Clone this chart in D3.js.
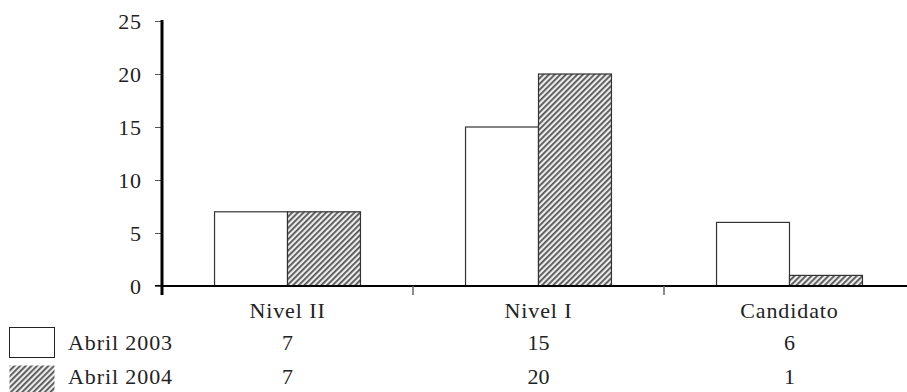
<!DOCTYPE html>
<html><head><meta charset="utf-8">
<script src="https://cdn.jsdelivr.net/npm/d3@7"></script>
<style>body{margin:0;background:#fff}svg{display:block}text{font-family:"Liberation Serif","DejaVu Serif",serif;fill:#222}</style>
</head><body>
<svg id="c" width="907" height="392"></svg>
<script>
const categories = ["Nivel II", "Nivel I", "Candidato"];
const seriesNames = ["Abril 2003", "Abril 2004"];
const abril2003 = [7, 15, 6];
const abril2004 = [7, 20, 1];
const yTicks = [0, 5, 10, 15, 20, 25];

const FS = 22, LS = "0.9px";
const svg = d3.select("#c");
const defs = svg.append("defs");
const pat = defs.append("pattern").attr("id","hatch").attr("patternUnits","userSpaceOnUse")
  .attr("width",4).attr("height",4).attr("patternTransform","rotate(45)");
pat.append("rect").attr("width",4).attr("height",4).attr("fill","#ececec");
pat.append("rect").attr("x",0).attr("width",1.8).attr("height",4).attr("fill","#555");

const x0 = 162, x1 = 915, yTop = 21, yBot = 286;
const x = d3.scaleBand().domain(categories).range([x0, x1]);
const xs = d3.scaleBand().domain(seriesNames).range([0, x.bandwidth()]).paddingInner(0).paddingOuter(0.72);
const y = d3.scaleLinear().domain([0, 25]).range([yBot, yTop]);

const series = [abril2003, abril2004];
const fills = ["#fff", "url(#hatch)"];
series.forEach((vals, si) => {
  svg.append("g").selectAll("rect").data(vals).join("rect")
    .attr("x", (d,i) => x(categories[i]) + xs(seriesNames[si]))
    .attr("width", xs.bandwidth())
    .attr("y", d => y(d))
    .attr("height", d => y(0) - y(d))
    .attr("fill", fills[si]).attr("stroke", "#333").attr("stroke-width", 1.2);
});

// x axis line
svg.append("line").attr("x1",155).attr("x2",907).attr("y1",yBot).attr("y2",yBot)
  .attr("stroke","#000").attr("stroke-width",2);
// category separator ticks
svg.append("g").selectAll("line").data(categories.slice(1)).join("line")
  .attr("x1", d => x(d)).attr("x2", d => x(d)).attr("y1", yBot).attr("y2", yBot+9)
  .attr("stroke","#666").attr("stroke-width",1.5);

// y axis
const yAxis = d3.axisLeft(y).tickValues(yTicks).tickSize(7).tickPadding(13);
const ya = svg.append("g").attr("transform",`translate(${x0},0)`).call(yAxis);
ya.select(".domain").remove();
ya.selectAll(".tick line").attr("stroke","#555").attr("stroke-width",1);
ya.selectAll(".tick text").attr("font-size",FS).attr("fill","#222")
  .style("font-family",'"Liberation Serif",serif').style("letter-spacing",LS);
svg.append("line").attr("x1",x0).attr("x2",x0).attr("y1",yTop-1).attr("y2",yBot+9)
  .attr("stroke","#000").attr("stroke-width",3);

// category labels
svg.append("g").selectAll("text").data(categories).join("text")
  .attr("x", d => x(d) + x.bandwidth()/2).attr("y", 318)
  .attr("text-anchor","middle").attr("font-size",FS).style("letter-spacing",LS).text(d => d);

// data table
const rowY = [350, 384];
const boxY = [327, 365];
seriesNames.forEach((name, si) => {
  svg.append("rect").attr("x",9.5).attr("y",boxY[si]+0.5).attr("width",45).attr("height",30)
    .attr("fill",fills[si]).attr("stroke", si===0 ? "#222" : "none").attr("stroke-width",1);
  svg.append("text").attr("x",68).attr("y",rowY[si]).attr("font-size",FS).style("letter-spacing",LS).text(name);
  svg.append("g").selectAll("text").data(series[si]).join("text")
    .attr("x",(d,i) => x(categories[i]) + x.bandwidth()/2).attr("y",rowY[si])
    .attr("text-anchor","middle").attr("font-size",FS).text(d => d);
});
</script>
</body></html>
